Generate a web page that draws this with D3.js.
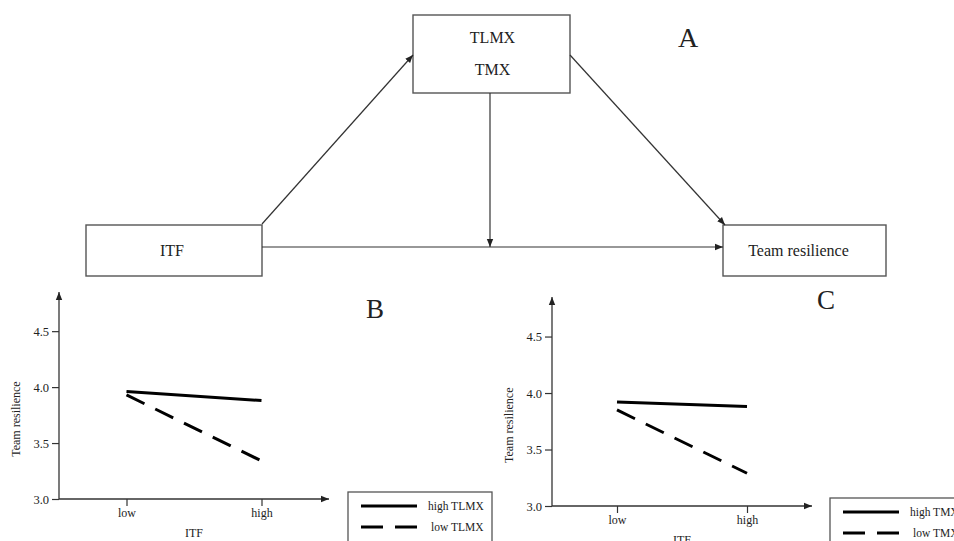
<!DOCTYPE html>
<html>
<head>
<meta charset="utf-8">
<script src="https://cdn.jsdelivr.net/npm/d3@7"></script>
<style>
  body { margin: 0; background: #fff; }
  text { font-family: "Liberation Serif", "Times New Roman", serif; fill: #222; }
</style>
</head>
<body>
<div id="figure"></div>
<script>
// data
let categories = ["low", "high"];
let yTicks = [3.0, 3.5, 4.0, 4.5];
let highTLMX = [3.96, 3.88];
let lowTLMX = [3.93, 3.34];
let highTMX = [3.92, 3.88];
let lowTMX = [3.85, 3.29];

let width = 954;
let height = 541;

let svg = d3
  .select("#figure")
  .append("svg")
  .attr("width", width)
  .attr("height", height);

let defs = svg.append("defs");
defs
  .append("marker")
  .attr("id", "arrow")
  .attr("viewBox", "0 0 10 10")
  .attr("refX", 10)
  .attr("refY", 5)
  .attr("markerWidth", 8)
  .attr("markerHeight", 8)
  .attr("markerUnits", "userSpaceOnUse")
  .attr("orient", "auto")
  .append("path")
  .attr("d", "M0,1L10,5L0,9Z")
  .attr("fill", "#222");

// ---- panel A: path diagram ----
let diagram = svg.append("g").attr("class", "diagram");

let boxes = [
  { id: "mod", x: 413, y: 15, w: 157, h: 78, lines: ["TLMX", "TMX"] },
  { id: "itf", x: 86, y: 225, w: 176, h: 51, lines: ["ITF"] },
  { id: "res", x: 723, y: 225, w: 163, h: 51, lines: ["Team resilience"] }
];

diagram
  .selectAll("rect")
  .data(boxes)
  .enter()
  .append("rect")
  .attr("x", (d) => d.x)
  .attr("y", (d) => d.y)
  .attr("width", (d) => d.w)
  .attr("height", (d) => d.h)
  .attr("fill", "none")
  .attr("stroke", "#555")
  .attr("stroke-width", 1.4);

boxes.forEach((b) => {
  let n = b.lines.length;
  b.lines.forEach((t, i) => {
    diagram
      .append("text")
      .attr("x", b.x + b.w / 2 + (b.id == "res" ? -6 : b.id == "itf" ? -2 : 1))
      .attr("y", n == 1 ? b.y + 31 : b.y + 28 + i * 32)
      .attr("text-anchor", "middle")
      .style("font-size", "16px")
      .text(t);
  });
});

let mod = boxes[0], itf = boxes[1], res = boxes[2];
let midY = itf.y + 22;
let arrows = [
  [itf.x + itf.w, itf.y - 1, mod.x, mod.y + 40],
  [mod.x + mod.w, mod.y + 40, res.x + 2, res.y],
  [mod.x + 77, mod.y + mod.h, mod.x + 77, midY],
  [itf.x + itf.w, midY, res.x, midY]
];

diagram
  .selectAll("line")
  .data(arrows)
  .enter()
  .append("line")
  .attr("x1", (d) => d[0])
  .attr("y1", (d) => d[1])
  .attr("x2", (d) => d[2])
  .attr("y2", (d) => d[3])
  .attr("stroke", "#333")
  .attr("stroke-width", 1.2)
  .attr("marker-end", "url(#arrow)");

diagram
  .append("text")
  .attr("x", 678)
  .attr("y", 47)
  .style("font-size", "28px")
  .text("A");

// ---- panels B and C: simple slopes ----
function slopePanel(opt) {
  let g = svg.append("g");

  let x = d3.scaleLinear().domain([-0.5, 1.5]).range([opt.left, opt.right]);
  let y = d3.scaleLinear().domain([3, 4.85]).range([opt.bottom, opt.top]);

  // axis lines with arrow heads
  g.append("line")
    .attr("x1", x(-0.5))
    .attr("y1", y(3))
    .attr("x2", x(-0.5))
    .attr("y2", y(4.85))
    .attr("stroke", "#333")
    .attr("stroke-width", 1.3)
    .attr("marker-end", "url(#arrow)");
  g.append("line")
    .attr("x1", x(-0.5))
    .attr("y1", y(3))
    .attr("x2", x(1.5))
    .attr("y2", y(3))
    .attr("stroke", "#333")
    .attr("stroke-width", 1.3)
    .attr("marker-end", "url(#arrow)");

  let yAxis = g
    .append("g")
    .attr("transform", "translate(" + x(-0.5) + ",0)")
    .call(
      d3.axisLeft(y).tickValues(yTicks).tickFormat(d3.format(".1f")).tickSize(7).tickPadding(3)
    );
  let xAxis = g
    .append("g")
    .attr("transform", "translate(0," + y(3) + ")")
    .call(
      d3.axisBottom(x).tickValues([0, 1]).tickFormat((i) => categories[i]).tickSize(7).tickPadding(2)
    );

  [yAxis, xAxis].forEach((a) => {
    a.select(".domain").remove();
    a.selectAll(".tick line").attr("stroke", "#333").attr("stroke-width", 1.2);
    a.selectAll(".tick text")
      .attr("fill", "#222")
      .style("font-family", '"Liberation Serif", serif');
  });
  yAxis.selectAll(".tick text").style("font-size", "12.5px");
  xAxis.selectAll(".tick text").style("font-size", "12px");

  g.append("text")
    .attr("transform", "translate(" + (x(-0.5) - 39) + "," + (y(3.75) + 4) + ") rotate(-90)")
    .attr("text-anchor", "middle")
    .style("font-size", "12px")
    .text("Team resilience");

  g.append("text")
    .attr("x", x(0.5))
    .attr("y", y(3) + 38)
    .attr("text-anchor", "middle")
    .style("font-size", "12px")
    .text("ITF");

  let line = d3
    .line()
    .x((d, i) => x(i))
    .y((d) => y(d));

  g.append("path")
    .attr("d", line(opt.high))
    .attr("fill", "none")
    .attr("stroke", "#000")
    .attr("stroke-width", 3);
  g.append("path")
    .attr("d", line(opt.low))
    .attr("fill", "none")
    .attr("stroke", "#000")
    .attr("stroke-width", 3)
    .attr("stroke-dasharray", "20,12");

  g.append("text")
    .attr("x", opt.letterX)
    .attr("y", opt.letterY)
    .style("font-size", "27px")
    .text(opt.letter);

  // legend
  let lg = g.append("g").attr("transform", "translate(" + opt.legendX + "," + opt.legendY + ")");
  lg.append("rect")
    .attr("x", 0)
    .attr("y", 0)
    .attr("width", 144)
    .attr("height", 60)
    .attr("fill", "#fff")
    .attr("stroke", "#555")
    .attr("stroke-width", 1.3);
  opt.names.forEach((name, i) => {
    lg.append("line")
      .attr("x1", 13)
      .attr("x2", 69)
      .attr("y1", 14 + i * 21)
      .attr("y2", 14 + i * 21)
      .attr("stroke", "#000")
      .attr("stroke-width", 3)
      .attr("stroke-dasharray", i == 1 ? "22,12" : null);
    lg.append("text")
      .attr("x", 80 + (i == 1 ? 3 : 0))
      .attr("y", 18 + i * 21)
      .style("font-size", "11.5px")
      .text(name);
  });
}

slopePanel({
  left: 59, right: 329, top: 292, bottom: 499,
  high: highTLMX, low: lowTLMX,
  names: ["high TLMX", "low TLMX"],
  letter: "B", letterX: 366, letterY: 318,
  legendX: 348, legendY: 492
});

slopePanel({
  left: 552, right: 812, top: 297, bottom: 506,
  high: highTMX, low: lowTMX,
  names: ["high TMX", "low TMX"],
  letter: "C", letterX: 817, letterY: 309,
  legendX: 830, legendY: 498
});
</script>
</body>
</html>
